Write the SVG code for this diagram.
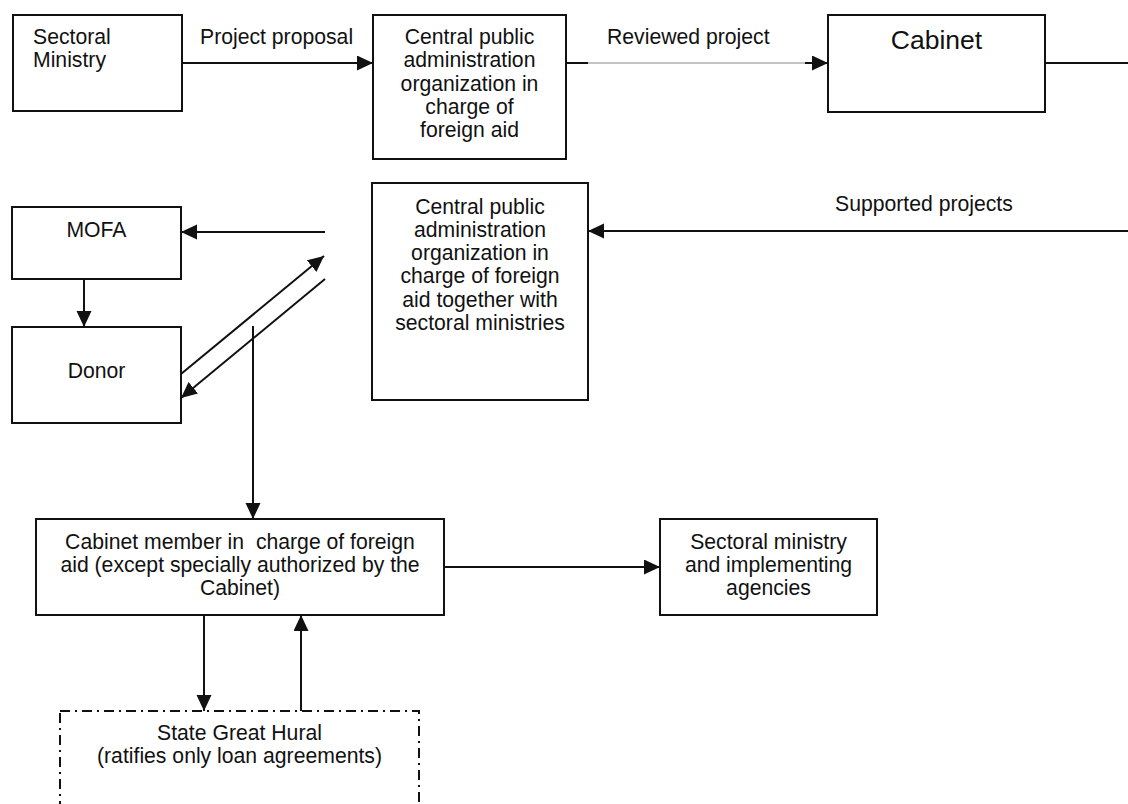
<svg xmlns="http://www.w3.org/2000/svg" width="1128" height="804" viewBox="0 0 1128 804">
<style>
.box{fill:#fff;stroke:#111;stroke-width:2}
.dd{fill:#fff;stroke:#111;stroke-width:2;stroke-dasharray:10 5 2 5}
.t{font-family:"Liberation Sans",Arial,sans-serif;font-size:21.2px;fill:#111}
.c{text-anchor:middle}
.big{font-size:26.5px}
.ln{stroke:#111;stroke-width:2;fill:none}
.thin{stroke:#888;stroke-width:1;fill:none}
</style>
<defs>
<marker id="ah" markerUnits="userSpaceOnUse" markerWidth="17" markerHeight="16" refX="16" refY="7.5" orient="auto">
<path d="M0,0 L16,7.5 L0,15 z" fill="#111"/>
</marker>
</defs>
<g id="connectors">
<line class="ln" x1="182" y1="63" x2="373" y2="63" marker-end="url(#ah)"/>
<line class="ln" x1="566" y1="63" x2="588" y2="63"/>
<line class="thin" x1="588" y1="63" x2="806" y2="63"/>
<line class="ln" x1="805" y1="63" x2="828" y2="63" marker-end="url(#ah)"/>
<line class="ln" x1="1045" y1="63" x2="1128" y2="63"/>
<line class="ln" x1="1128" y1="231" x2="588" y2="231" marker-end="url(#ah)"/>
<line class="ln" x1="325" y1="232" x2="181" y2="232" marker-end="url(#ah)"/>
<line class="ln" x1="84" y1="279" x2="84" y2="327" marker-end="url(#ah)"/>
<line class="ln" x1="181" y1="374" x2="324" y2="256" marker-end="url(#ah)"/>
<line class="ln" x1="325" y1="279" x2="181" y2="398" marker-end="url(#ah)"/>
<line class="ln" x1="253" y1="326" x2="253" y2="519" marker-end="url(#ah)"/>
<line class="ln" x1="444" y1="567" x2="660" y2="567" marker-end="url(#ah)"/>
<line class="ln" x1="204" y1="615" x2="204" y2="711" marker-end="url(#ah)"/>
<line class="ln" x1="301" y1="711" x2="301" y2="615" marker-end="url(#ah)"/>
<text class="t" x="200" y="44">Project proposal</text>
<text class="t" x="607" y="44">Reviewed project</text>
<text class="t" x="835" y="211">Supported projects</text>
</g>
<g id="sectoral-ministry">
<rect class="box" x="13" y="15" width="169" height="96"/>
<text class="t" x="33" y="44">Sectoral</text>
<text class="t" x="33" y="67">Ministry</text>
</g>
<g id="central-org">
<rect class="box" x="373" y="15" width="193" height="144"/>
<text class="t c" x="469.5" y="44">Central public</text>
<text class="t c" x="469.5" y="67.3">administration</text>
<text class="t c" x="469.5" y="90.5">organization in</text>
<text class="t c" x="469.5" y="113.8">charge of</text>
<text class="t c" x="469.5" y="137">foreign aid</text>
</g>
<g id="cabinet">
<rect class="box" x="828" y="15" width="217" height="97"/>
<text class="t c big" x="936.5" y="49">Cabinet</text>
</g>
<g id="central-org-sectoral">
<rect class="box" x="372" y="183" width="216" height="217"/>
<text class="t c" x="480" y="213.5">Central public</text>
<text class="t c" x="480" y="236.8">administration</text>
<text class="t c" x="480" y="260.1">organization in</text>
<text class="t c" x="480" y="283.4">charge of foreign</text>
<text class="t c" x="480" y="306.7">aid together with</text>
<text class="t c" x="480" y="330">sectoral ministries</text>
</g>
<g id="mofa">
<rect class="box" x="12" y="207" width="169" height="72"/>
<text class="t c" x="96.5" y="237">MOFA</text>
</g>
<g id="donor">
<rect class="box" x="12" y="327" width="169" height="96"/>
<text class="t c" x="96.5" y="378">Donor</text>
</g>
<g id="cabinet-member">
<rect class="box" x="36" y="519" width="408" height="96"/>
<text class="t c" x="240" y="549" xml:space="preserve">Cabinet member in  charge of foreign</text>
<text class="t c" x="240" y="572">aid (except specially authorized by the</text>
<text class="t c" x="240" y="595">Cabinet)</text>
</g>
<g id="sectoral-implementing">
<rect class="box" x="660" y="519" width="217" height="96"/>
<text class="t c" x="768.5" y="548.5">Sectoral ministry</text>
<text class="t c" x="768.5" y="571.5">and implementing</text>
<text class="t c" x="768.5" y="594.5">agencies</text>
</g>
<g id="state-great-hural">
<rect class="dd" x="60" y="711" width="359" height="120"/>
<text class="t c" x="239.5" y="740">State Great Hural</text>
<text class="t c" x="239.5" y="763.3">(ratifies only loan agreements)</text>
</g>
</svg>
